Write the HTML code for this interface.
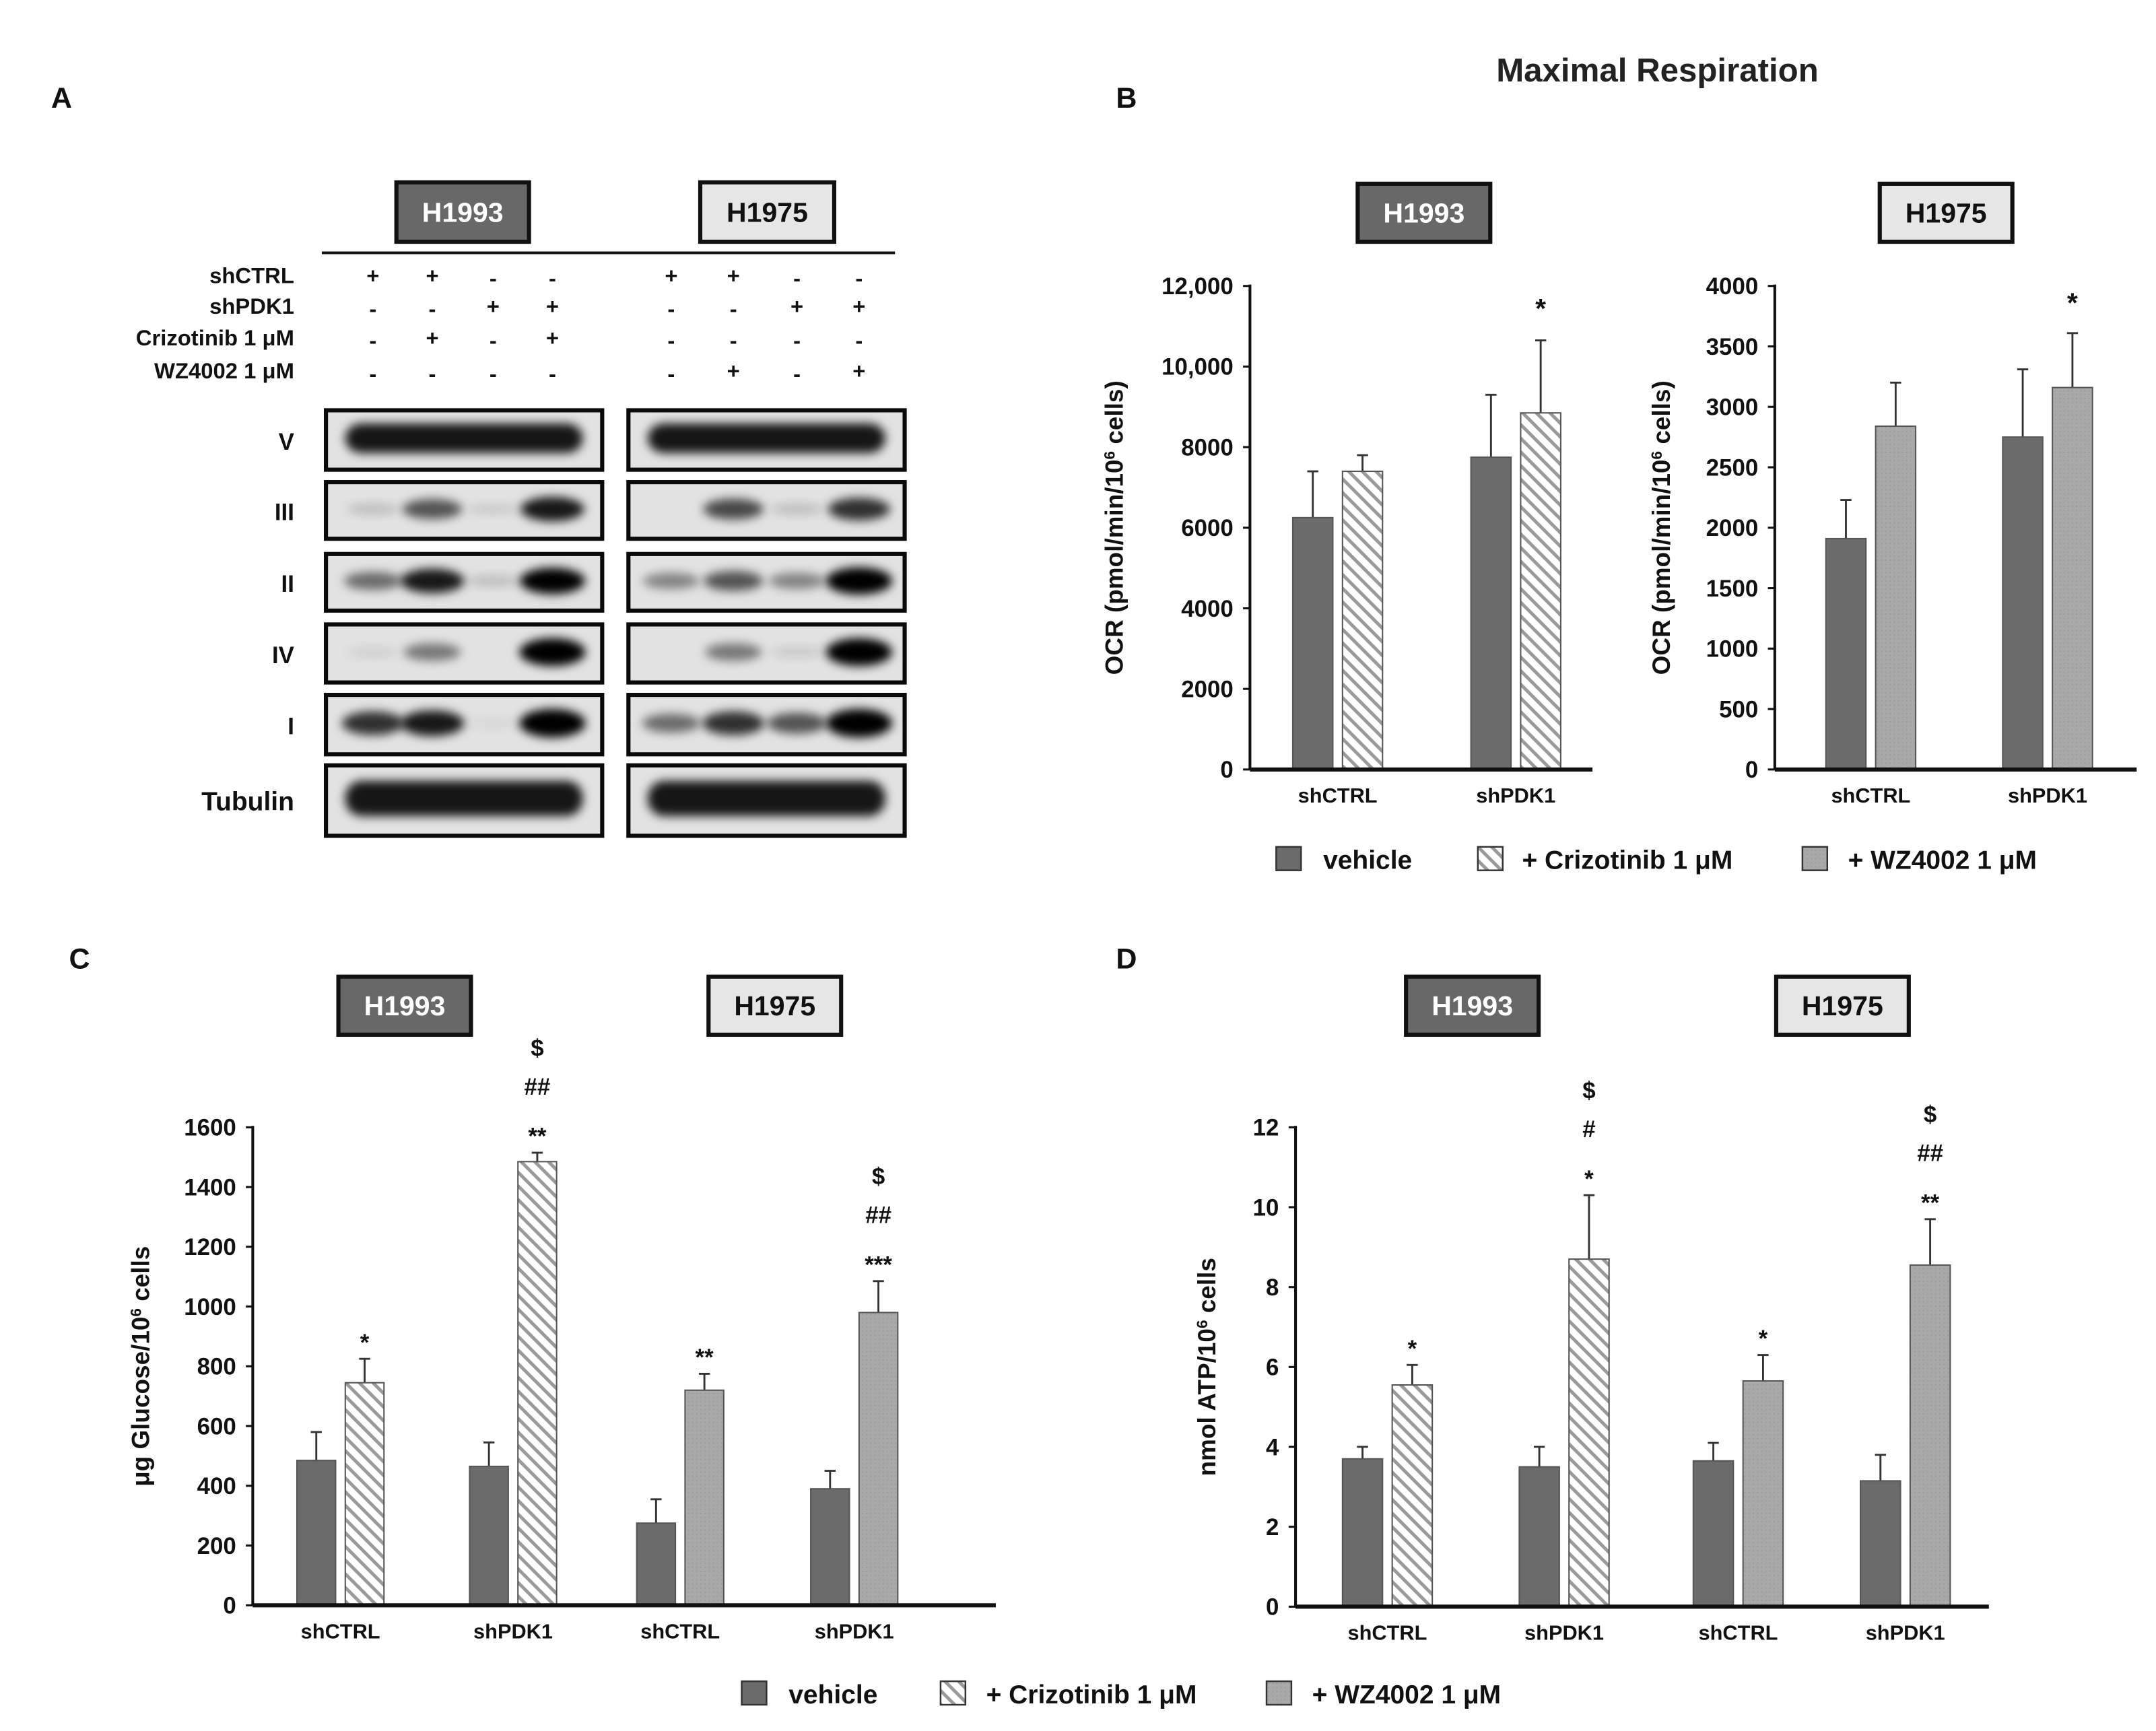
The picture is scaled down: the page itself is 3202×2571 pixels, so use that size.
<!DOCTYPE html>
<html><head><meta charset="utf-8">
<style>
html,body{margin:0;padding:0;background:#fff;}
svg{display:block;font-family:"Liberation Sans",sans-serif;font-weight:bold;}
</style></head>
<body>
<svg id="fig" xmlns="http://www.w3.org/2000/svg" width="3202" height="2571" viewBox="0 0 1561 1253" preserveAspectRatio="none">
<defs>
<pattern id="hatch" patternUnits="userSpaceOnUse" width="7" height="7" patternTransform="rotate(-45)">
<rect width="7" height="7" fill="#fff"/><rect x="0" y="0" width="2.4" height="7" fill="#9a9a9a"/>
</pattern>
<pattern id="dots" patternUnits="userSpaceOnUse" width="3" height="3">
<rect width="3" height="3" fill="#a9a9a9"/><rect width="1" height="1" fill="#9c9c9c"/>
</pattern>
<filter id="blur" x="-20%" y="-50%" width="140%" height="200%"><feGaussianBlur stdDeviation="3.5"/></filter>
</defs>
<g id="root"></g>
</svg>
<script>
const NS='http://www.w3.org/2000/svg';
const root=document.getElementById('root');
function mk(tag,attrs,parent){const e=document.createElementNS(NS,tag);for(const k in attrs)e.setAttribute(k,attrs[k]);(parent||root).appendChild(e);return e;}
function txt(x,y,s,size,anchor,fill,parent){const t=mk('text',{x:x,y:y,'font-size':size,'text-anchor':anchor||'start',fill:fill||'#1a1a1a'},parent);t.textContent=s;return t;}

// ===== Data: panel B =====
const bGroups=['shCTRL','shPDK1'];
const bH1993Vehicle=[6250,7750];
const bH1993VehicleErr=[7400,9300];
const bH1993Criz=[7400,8850];
const bH1993CrizErr=[7800,10650];
const bH1993Ticks=[0,2000,4000,6000,8000,10000,12000];
const bH1993TickLabels=['0','2000','4000','6000','8000','10,000','12,000'];
const bH1975Vehicle=[1910,2750];
const bH1975VehicleErr=[2230,3310];
const bH1975WZ=[2840,3160];
const bH1975WZErr=[3200,3610];
const bH1975Ticks=[0,500,1000,1500,2000,2500,3000,3500,4000];
// ===== Data: panel C =====
const cGroups=['shCTRL','shPDK1','shCTRL','shPDK1'];
const cVehicle=[485,465,275,390];
const cVehicleErr=[580,545,355,450];
const cTreated=[745,1485,720,980];
const cTreatedErr=[825,1515,775,1085];
const cSig=[['*'],['**','##','$'],['**'],['***','##','$']];
const cTicks=[0,200,400,600,800,1000,1200,1400,1600];
// ===== Data: panel D =====
const dGroups=['shCTRL','shPDK1','shCTRL','shPDK1'];
const dVehicle=[3.7,3.5,3.65,3.15];
const dVehicleErr=[4.0,4.0,4.1,3.8];
const dTreated=[5.55,8.7,5.65,8.55];
const dTreatedErr=[6.05,10.3,6.3,9.7];
const dSig=[['*'],['*','#','$'],['*'],['**','##','$']];
const dTicks=[0,2,4,6,8,10,12];

const VEH='#6b6b6b', WZ='url(#dots)', CRIZ='url(#hatch)';

function cellBox(x,y,w,h,label,dark,name){
  const r=mk('rect',{x:x,y:y,width:w,height:h,fill:dark?'#686868':'#e6e6e6',stroke:'#111','stroke-width':3});
  
  
  const t=txt(x+w/2,y+h/2+7,label,20,'middle',dark?'#fff':'#111');
  
  
}
function panelLetter(x,y,s){const t=txt(x,y,s,21,'start','#111');}

function chart(o){
  const g=mk('g',{});
  
  
  const yS=v=>o.y0-(v-o.min)/(o.max-o.min)*(o.y0-o.y1);
  o.ticks.forEach((t,i)=>{
    const y=yS(t);
    const tk=mk('line',{x1:o.ax-5,x2:o.ax,y1:y,y2:y,stroke:'#111','stroke-width':1.5},g);
    
    
    const tl=txt(o.ax-12,y+6,o.tickLabels?o.tickLabels[i]:String(t),17,'end','#111',g);
    
    
  });
  o.series.forEach(s=>{
    s.vals.forEach((v,i)=>{
      const x=o.gx[i]+s.off;
      const ye=yS(s.err[i]);
      const el=mk('line',{x1:x+o.bw/2,x2:x+o.bw/2,y1:yS(v),y2:ye,stroke:'#333','stroke-width':1.4},g);
      
      
      const ec=mk('line',{x1:x+o.bw/2-4,x2:x+o.bw/2+4,y1:ye,y2:ye,stroke:'#333','stroke-width':1.4},g);
      
      
      const fill=typeof s.fill==='function'?s.fill(i):s.fill;
      const r=mk('rect',{x:x,y:yS(v),width:o.bw,height:o.y0-yS(v),fill:fill,stroke:'#555','stroke-width':1},g);
      
      
    });
  });
  const ya=mk('line',{x1:o.ax,x2:o.ax,y1:o.y1-1,y2:o.y0,stroke:'#111','stroke-width':2},g);
  
  
  const xa=mk('line',{x1:o.ax,x2:o.xEnd,y1:o.y0,y2:o.y0,stroke:'#111','stroke-width':3},g);
  
  
  o.cats.forEach((c,i)=>{
    const cx=o.gx[i]+o.bw+o.gap/2;
    const l=txt(cx,o.y0+24,c,15,'middle','#111',g);
    
    
  });
  if(o.sig){o.sig.forEach((arr,i)=>{
    const cx=o.gx[i]+o.bw+o.gap+o.bw/2;
    const top=yS(o.series[1].err[i]);
    arr.forEach((s,k)=>{
      const y=top-14-k*(o.sigStep||28);
      const t=txt(cx,y+(s.indexOf('*')>=0?8:0),s,17,'middle','#111',g);
      
      
    });
  });}
  if(o.star){o.star.forEach(([i,y])=>{const cx=o.gx[i]+o.bw+o.gap+o.bw/2;const t=txt(cx,y,'*',20,'middle','#111',g);});}
  const yt=txt(0,0,'',18,'middle','#111',g);
  yt.setAttribute('transform','translate('+o.ytx+','+((o.y0+o.y1)/2)+') rotate(-90)');
  
  
  yt.innerHTML=o.ytitle;
}

function legend(y,items,prefix){
  items.forEach(([x,fill,label,tx])=>{
    const r=mk('rect',{x:x,y:y-9,width:18,height:17,fill:fill,stroke:'#333','stroke-width':1.2});
    
    
    const t=txt(tx,y+7,label,19,'start','#111');
    
    
  });
}

// ===== Panel A =====
panelLetter(37,78,'A');
cellBox(287,132,96,43,'H1993',true,'h1993-box-a');
cellBox(507,132,97,43,'H1975',false,'h1975-box-a');
{const l=mk('line',{x1:233,x2:648,y1:183,y2:183,stroke:'#111','stroke-width':2});}
const condLabels=['shCTRL','shPDK1','Crizotinib 1 μM','WZ4002 1 μM'];
const condRowsY=[205,227,250,274];
const condSigns=[['+','+','-','-','+','+','-','-'],['-','-','+','+','-','-','+','+'],['-','+','-','+','-','-','-','-'],['-','-','-','-','-','+','-','+']];
const laneX=[270,313,357,400,486,531,577,622];
condLabels.forEach((s,i)=>{
  const t=txt(213,condRowsY[i],s,16,'end','#111');
  
  
  condSigns[i].forEach((c,j)=>{const m=txt(laneX[j],condRowsY[i]+(c==='-'?2:0),c,16,'middle','#111');});
});
const blotNames=['V','III','II','IV','I','Tubulin'];
const blotY=[[297,340],[349,390],[401,442],[452,494],[503,546],[554,605]];
const bandL=[[1,1,1,1],[0.15,0.6,0.1,0.85],[0.5,0.85,0.15,0.95],[0.08,0.45,0,1],[0.75,0.85,0.05,1],[1,1,1,1]];
const bandR=[[0.9,0.9,0.9,1],[0,0.65,0.15,0.75],[0.4,0.6,0.4,1],[0,0.45,0.1,1],[0.5,0.75,0.6,1],[0.9,0.9,0.9,0.95]];
blotNames.forEach((n,i)=>{
  const [y0,y1]=blotY[i];
  const lab=txt(213,(y0+y1)/2+7,n,n==='Tubulin'?19:17,'end','#111');
  
  
  [[236,436,bandL[i],0],[455,655,bandR[i],4]].forEach(([x0,x1,ints,off])=>{
    const bg=mk('rect',{x:x0,y:y0,width:x1-x0,height:y1-y0,fill:'#e2e2e2'});
    
    
    const big=(n==='V'||n==='Tubulin');
    if(big){
      const bb=mk('rect',{x:x0+14,y:y0+(y1-y0)*0.22,width:x1-x0-28,height:(y1-y0)*0.5,rx:12,fill:'#000','fill-opacity':0.9,filter:'url(#blur)'});
      
      
    }
    ints.forEach((v,k)=>{
      if(v<=0.02||big)return;
      const cx=laneX[k+off];
      const ry=(y1-y0)*0.08+v*(y1-y0)*0.16;
      const b=mk('ellipse',{cx:cx,cy:(y0+y1)/2-1,rx:18+v*6,ry:ry,fill:'#000','fill-opacity':Math.min(1,v*1.05),filter:'url(#blur)'});
      
      
    });
    const fr=mk('rect',{x:x0,y:y0,width:x1-x0,height:y1-y0,fill:'none',stroke:'#0a0a0a','stroke-width':3});
    
    
  });
});

// ===== Panel B =====
{const t=txt(1200,59,'Maximal Respiration',24,'middle','#222');}
panelLetter(808,78,'B');
cellBox(983,133,96,42,'H1993',true,'h1993-box-b');
cellBox(1361,133,96,42,'H1975',false,'h1975-box-b');
const ytOCR='OCR (pmol/min/10<tspan baseline-shift="super" font-size="11">6</tspan> cells)';
chart({name:'chart-b-h1993',ax:905,y0:557,y1:207,min:0,max:12000,ticks:bH1993Ticks,tickLabels:bH1993TickLabels,
  cats:bGroups,gx:[936,1065],bw:29,gap:7,xEnd:1153,ytx:813,ytitle:ytOCR,
  series:[{key:'vehicle',vals:bH1993Vehicle,err:bH1993VehicleErr,fill:VEH,off:0},{key:'crizotinib',vals:bH1993Criz,err:bH1993CrizErr,fill:CRIZ,off:36}],
  star:[[1,230]]});
chart({name:'chart-b-h1975',ax:1285,y0:557,y1:207,min:0,max:4000,ticks:bH1975Ticks,
  cats:bGroups,gx:[1322,1450],bw:29,gap:7,xEnd:1547,ytx:1209,ytitle:ytOCR,
  series:[{key:'vehicle',vals:bH1975Vehicle,err:bH1975VehicleErr,fill:VEH,off:0},{key:'wz4002',vals:bH1975WZ,err:bH1975WZErr,fill:WZ,off:36}],
  star:[[1,226]]});
legend(622,[[924,VEH,'vehicle',958],[1070,CRIZ,'+ Crizotinib 1 μM',1102],[1305,WZ,'+ WZ4002 1 μM',1338]],'b');

// ===== Panel C =====
panelLetter(50,701,'C');
cellBox(245,707,96,42,'H1993',true,'h1993-box-c');
cellBox(513,707,96,42,'H1975',false,'h1975-box-c');
chart({name:'chart-c-glucose',ax:183,y0:1162,y1:816,min:0,max:1600,ticks:cTicks,
  cats:cGroups,gx:[215,340,461,587],bw:28,gap:7,xEnd:721,ytx:108,ytitle:'μg Glucose/10<tspan baseline-shift="super" font-size="11">6</tspan> cells',
  series:[{key:'vehicle',vals:cVehicle,err:cVehicleErr,fill:VEH,off:0},{key:'treated',vals:cTreated,err:cTreatedErr,fill:i=>i<2?CRIZ:WZ,off:35}],
  sig:cSig,sigStep:28});
legend(1226,[[537,VEH,'vehicle',571],[681,CRIZ,'+ Crizotinib 1 μM',714],[917,WZ,'+ WZ4002 1 μM',950]],'c');

// ===== Panel D =====
panelLetter(808,701,'D');
cellBox(1018,707,96,42,'H1993',true,'h1993-box-d');
cellBox(1286,707,96,42,'H1975',false,'h1975-box-d');
chart({name:'chart-d-atp',ax:938,y0:1163,y1:816,min:0,max:12,ticks:dTicks,
  cats:dGroups,gx:[972,1100,1226,1347],bw:29,gap:7,xEnd:1440,ytx:880,ytitle:'nmol ATP/10<tspan baseline-shift="super" font-size="11">6</tspan> cells',
  series:[{key:'vehicle',vals:dVehicle,err:dVehicleErr,fill:VEH,off:0},{key:'treated',vals:dTreated,err:dTreatedErr,fill:i=>i<2?CRIZ:WZ,off:36}],
  sig:dSig,sigStep:28});
</script>
</body></html>
